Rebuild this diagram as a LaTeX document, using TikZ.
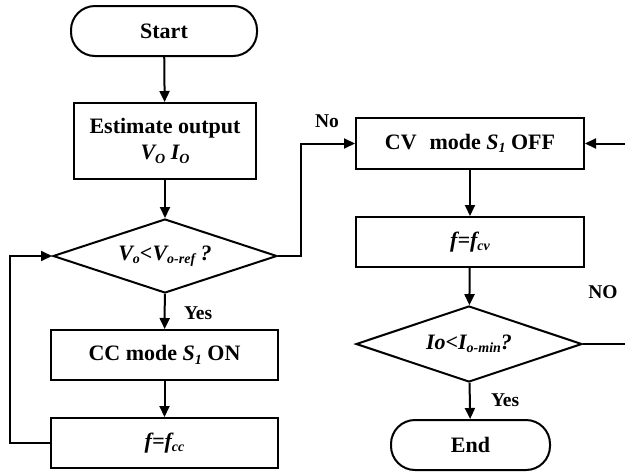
\documentclass[tikz,border=0pt]{standalone}
\usepackage{fontspec}
\setmainfont{Liberation Serif}
\usetikzlibrary{arrows.meta,shapes.geometric}
\newcommand\lo[1]{\raisebox{-0.35ex}{\fontsize{14}{14}\selectfont #1}}
\begin{document}
\begin{tikzpicture}[x=1pt,y=-1pt,line width=2pt,
  every node/.style={font=\fontsize{22}{25}\selectfont\bfseries},
  box/.style={draw,rectangle,inner sep=0pt,align=center},
  term/.style={draw,rectangle,rounded corners=24pt,inner sep=0pt},
  dec/.style={draw,diamond,inner sep=0pt},
  lbl/.style={font=\fontsize{19.5}{21}\selectfont\bfseries,inner sep=0pt},
  arr/.style={-{Triangle[length=11pt,width=10pt]}}]
\useasboundingbox (0,0) rectangle (625,472);
% left column
\node[term,minimum width=186pt,minimum height=50pt] (start) at (164,31) {Start};
\node[box,minimum width=182pt,minimum height=76pt] (est) at (165,141)
  {Estimate output\\[1pt]\textit{V\lo{O} I\lo{O}}};
\node[dec,minimum width=224pt,minimum height=74pt,
  label={center:\textit{V\lo{o}<V\lo{o-ref} ?}}] (d1) at (165,256) {};
\node[box,minimum width=227pt,minimum height=50pt] (cc) at (164.5,355)
  {CC mode \textit{S\lo{1}} ON};
\node[box,minimum width=227pt,minimum height=50pt] (fcc) at (164.5,443)
  {\textit{f=f\lo{cc}}};
% right column
\node[box,minimum width=228pt,minimum height=51pt] (cv) at (470,143.5)
  {CV\,\, mode \textit{S\lo{1}} OFF};
\node[box,minimum width=228pt,minimum height=50pt] (fcv) at (470,242)
  {\textit{f=f\lo{cv}}};
\node[dec,minimum width=226pt,minimum height=76pt,
  label={center:\textit{Io<I\lo{o-min}?}}] (d2) at (469,344) {};
\node[term,minimum width=159pt,minimum height=50pt] (end) at (470.5,445) {End};
% free ends
\coordinate (r1) at (627,143.5);
\coordinate (r2) at (627,344);
% labels
\node[lbl,anchor=west] (yes1) at (183,313) {Yes};
\node[lbl] (no1) at (327,121) {No};
\node[lbl,anchor=west] (yes2) at (490,400) {Yes};
\node[lbl] (no2) at (603,292) {NO};
% connectors
\draw[arr] (start) -- (est);
\draw[arr] (est) -- (d1);
\draw[arr] (d1) -- (cc);
\draw[arr] (cc) -- (fcc);
\draw[arr] (fcc.west) -- ++(-40,0) |- (d1.west);
\draw[arr] (d1.east) -- ++(23,0) |- (cv.west);
\draw[arr] (cv) -- (fcv);
\draw[arr] (fcv) -- (d2);
\draw[arr] (d2) -- (end);
\draw (d2.east) -- (r2);
\draw[arr] (r1) -- (cv.east);
\end{tikzpicture}
\end{document}
